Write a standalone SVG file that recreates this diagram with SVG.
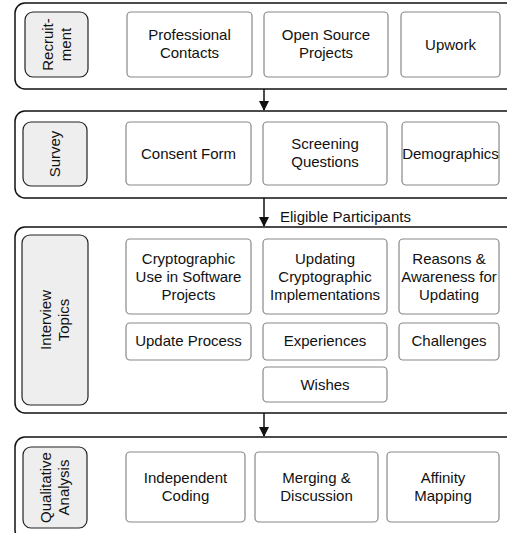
<svg xmlns="http://www.w3.org/2000/svg" width="507" height="533" viewBox="0 0 507 533">
<style>
.cont{fill:#fff;stroke:#111;stroke-width:1.5}
.lab{fill:#eeeeee;stroke:#222;stroke-width:1.2}
.box{fill:#fff;stroke:#888;stroke-width:1.2}
text{font-family:"Liberation Sans",Arial,sans-serif;font-size:15px;fill:#111;text-anchor:middle}
.conn{stroke:#111;stroke-width:1.5;fill:none}
</style>
<defs>
<marker id="ah" markerWidth="10" markerHeight="10" refX="9" refY="5" orient="auto" markerUnits="userSpaceOnUse">
<path d="M0,0 L10,5 L0,10 Z" fill="#111"/>
</marker>
</defs>
<g id="recruitment">
<rect class="cont" x="15" y="3" width="510" height="86" rx="10"/>
<rect class="lab" x="25" y="12" width="63" height="65" rx="8"/>
<text transform="translate(56.5 44.5) rotate(-90)"><tspan x="0" y="-4">Recruit-</tspan><tspan x="0" y="14">ment</tspan></text>
</g>
<g id="professional-contacts"><rect class="box" x="127" y="12" width="125" height="65" rx="4"/><text x="189.5" y="40">Professional</text><text x="189.5" y="58">Contacts</text></g>
<g id="open-source"><rect class="box" x="264" y="12" width="124" height="65" rx="4"/><text x="326" y="40">Open Source</text><text x="326" y="58">Projects</text></g>
<g id="upwork"><rect class="box" x="401" y="12" width="99" height="65" rx="4"/><text x="450.5" y="50">Upwork</text></g>

<g id="survey">
<rect class="cont" x="15" y="111" width="510" height="87" rx="10"/>
<rect class="lab" x="23" y="122" width="64" height="64" rx="8"/>
<text transform="translate(55 154) rotate(-90)" y="5">Survey</text>
</g>
<g id="consent-form"><rect class="box" x="126" y="122" width="125" height="63" rx="4"/><text x="188.5" y="159">Consent Form</text></g>
<g id="screening"><rect class="box" x="263" y="122" width="124" height="63" rx="4"/><text x="325" y="149">Screening</text><text x="325" y="167">Questions</text></g>
<g id="demographics"><rect class="box" x="402" y="122" width="97" height="63" rx="4"/><text x="450.5" y="159">Demographics</text></g>

<g id="interview">
<rect class="cont" x="15" y="227" width="510" height="186" rx="10"/>
<rect class="lab" x="22" y="235" width="66" height="170" rx="8"/>
<text transform="translate(55 320) rotate(-90)"><tspan x="0" y="-4">Interview</tspan><tspan x="0" y="14">Topics</tspan></text>
</g>
<g id="crypto-use"><rect class="box" x="126" y="239" width="125" height="75" rx="4"/><text x="188.5" y="264">Cryptographic</text><text x="188.5" y="282">Use in Software</text><text x="188.5" y="300">Projects</text></g>
<g id="updating-crypto"><rect class="box" x="263" y="239" width="124" height="75" rx="4"/><text x="325" y="264">Updating</text><text x="325" y="282">Cryptographic</text><text x="325" y="300">Implementations</text></g>
<g id="reasons"><rect class="box" x="399" y="239" width="100" height="75" rx="4"/><text x="449" y="264">Reasons &amp;</text><text x="449" y="282">Awareness for</text><text x="449" y="300">Updating</text></g>
<g id="update-process"><rect class="box" x="126" y="323" width="125" height="37" rx="4"/><text x="188.5" y="346">Update Process</text></g>
<g id="experiences"><rect class="box" x="263" y="323" width="124" height="37" rx="4"/><text x="325" y="346">Experiences</text></g>
<g id="challenges"><rect class="box" x="399" y="323" width="100" height="37" rx="4"/><text x="449" y="346">Challenges</text></g>
<g id="wishes"><rect class="box" x="263" y="367" width="124" height="35" rx="4"/><text x="325" y="390">Wishes</text></g>

<g id="qualitative">
<rect class="cont" x="15" y="437" width="510" height="103" rx="10"/>
<rect class="lab" x="23" y="447" width="64" height="81" rx="8"/>
<text transform="translate(55 487.5) rotate(-90)"><tspan x="0" y="-4">Qualitative</tspan><tspan x="0" y="14">Analysis</tspan></text>
</g>
<g id="independent-coding"><rect class="box" x="126" y="452" width="119" height="70" rx="4"/><text x="185.5" y="483">Independent</text><text x="185.5" y="501">Coding</text></g>
<g id="merging"><rect class="box" x="255" y="452" width="123" height="70" rx="4"/><text x="316.5" y="483">Merging &amp;</text><text x="316.5" y="501">Discussion</text></g>
<g id="affinity"><rect class="box" x="387" y="452" width="112" height="70" rx="4"/><text x="443" y="483">Affinity</text><text x="443" y="501">Mapping</text></g>

<g id="connectors">
<line class="conn" x1="264" y1="89" x2="264" y2="110" marker-end="url(#ah)"/>
<line class="conn" x1="264" y1="198" x2="264" y2="226" marker-end="url(#ah)"/>
<text x="280" y="222" style="text-anchor:start">Eligible Participants</text>
<line class="conn" x1="264" y1="413" x2="264" y2="436" marker-end="url(#ah)"/>
</g>
</svg>
